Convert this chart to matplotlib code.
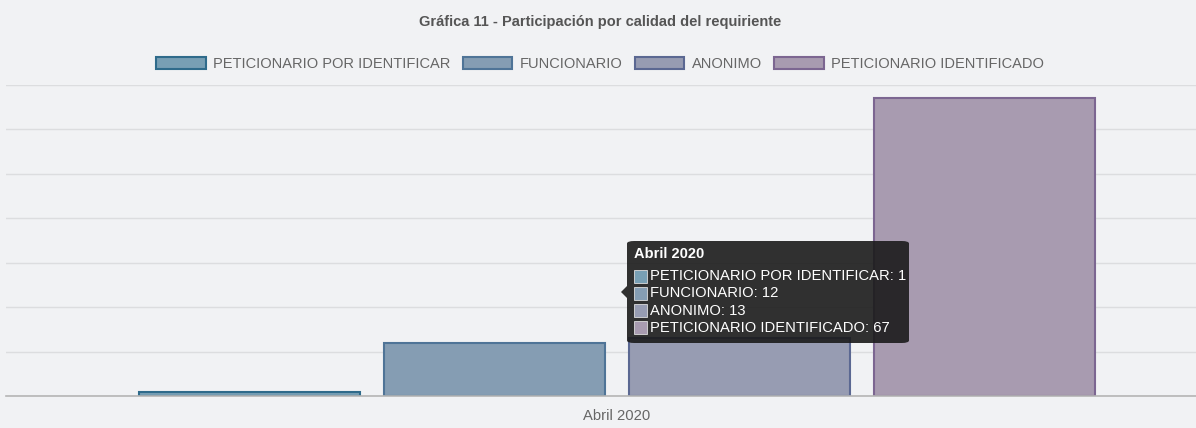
import matplotlib
matplotlib.use("Agg")
import matplotlib.pyplot as plt
from matplotlib.patches import FancyBboxPatch, Rectangle, Polygon

plt.rcParams['font.family'] = ['Liberation Sans', 'DejaVu Sans']

categories = ["Abril 2020"]
series = ["PETICIONARIO POR IDENTIFICAR", "FUNCIONARIO", "ANONIMO", "PETICIONARIO IDENTIFICADO"]
values = [1, 12, 13, 67]
fills = ["#789fb4", "#859db3", "#979cb2", "#a89bb0"]
edges = ["#2f6b8b", "#4f7497", "#5b6892", "#7c6691"]
title = "Gráfica 11 - Participación por calidad del requiriente"

W, H = 1196, 428
fig = plt.figure(figsize=(W / 100, H / 100), dpi=100)
bg = "#f1f2f4"
fig.patch.set_facecolor(bg)

ax = fig.add_axes([6 / W, (H - 396) / H, 1 - 6 / W, (396 - 85) / H])
ax.set_facecolor(bg)

n = len(series)
group = 0.8
slot = group / n
bw = slot * 0.9
handles = []
for i, (s, v) in enumerate(zip(series, values)):
    x = -group / 2 + slot * (i + 0.5)
    b = ax.bar([x], [v], width=bw, color=fills[i], edgecolor=edges[i], linewidth=1.5, label=s, zorder=3)
    handles.append(b)

ax.set_xlim(-0.4988, 0.4727)
ax.set_ylim(0, 70)
ax.set_yticks(range(0, 71, 10))
ax.yaxis.grid(True, color="#dcdddf", linewidth=1, zorder=0)
ax.tick_params(axis='y', length=0, labelleft=False)
ax.set_xticks([0])
ax.set_xticklabels(categories, color="#666666", fontsize=10.6)
ax.tick_params(axis='x', length=0, pad=9)
for sp in ["top", "right", "left"]:
    ax.spines[sp].set_visible(False)
ax.spines["bottom"].set_color("#b5b5b5")
ax.spines["bottom"].set_linewidth(1.2)
ax.spines["bottom"].set_zorder(4)

fig.text(600 / W, 1 - 22 / H, title, ha="center", va="center", fontsize=10.5,
         fontweight="bold", color="#555555")

leg = fig.legend(handles=handles, labels=series, loc="center", ncol=4,
                 bbox_to_anchor=(600 / W, 1 - 64 / H), frameon=False,
                 fontsize=10.5, handlelength=3.4, handleheight=0.95,
                 handletextpad=0.5, columnspacing=0.85, borderaxespad=0)
for t in leg.get_texts():
    t.set_color("#666666")

# Tooltip
def fx(px):
    return px / W

def fy(py):
    return 1 - py / H

tip = FancyBboxPatch((fx(627), fy(343)), fx(909) - fx(627), fy(241) - fy(343),
                     boxstyle="round,pad=0,rounding_size=0.006",
                     transform=fig.transFigure, facecolor="#1b1b1b", alpha=0.9,
                     edgecolor="none", zorder=10)
fig.patches.append(tip)
tri = Polygon([(fx(627), fy(286)), (fx(621), fy(292)), (fx(627), fy(298))],
              closed=True, transform=fig.transFigure, facecolor="#1b1b1b",
              alpha=0.9, edgecolor="none", zorder=10)
fig.patches.append(tri)
fig.text(fx(634), fy(254), categories[0], ha="left", va="center", fontsize=10.5,
         fontweight="bold", color="white", zorder=11)
for i, (s, v) in enumerate(zip(series, values)):
    yc = 276 + i * 17.3
    sq = Rectangle((fx(634), fy(yc + 6.5)), fx(647) - fx(634), fy(yc - 6.5) - fy(yc + 6.5),
                   transform=fig.transFigure, facecolor=fills[i], edgecolor="#dddddd",
                   linewidth=0.6, zorder=11)
    fig.patches.append(sq)
    fig.text(fx(650), fy(yc), f"{s}: {v}", ha="left", va="center", fontsize=10.6,
             color="white", zorder=11)

fig.savefig("out.png", dpi=100, facecolor=bg)
